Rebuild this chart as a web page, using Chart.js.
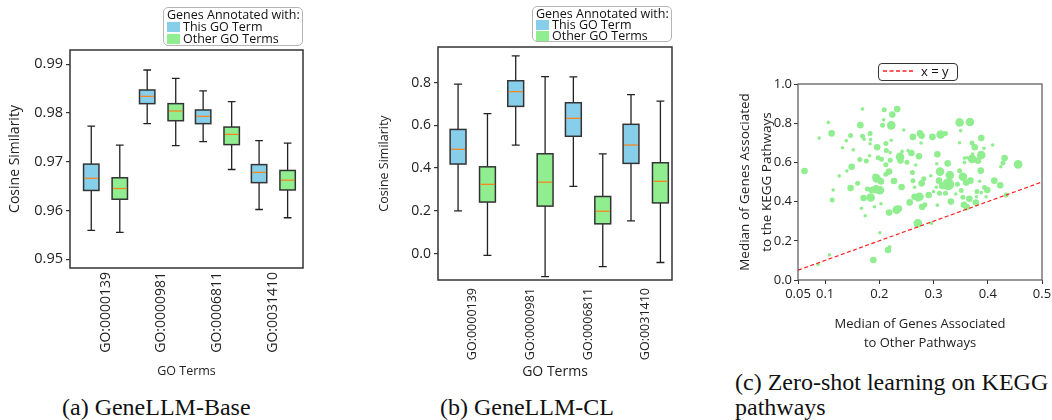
<!DOCTYPE html>
<html lang="en">
<head>
<meta charset="UTF-8">
<title>GeneLLM figure</title>
<script src="https://cdn.jsdelivr.net/npm/chart.js"></script>
<style>
  body { margin: 0; background: #fff; font-family: 'Open Sans', sans-serif; color: #111; }
  #wrap { position: relative; width: 1052px; height: 420px; overflow: hidden; }
  canvas { position: absolute; top: 0; }
  .lg { position: absolute; box-sizing: border-box; border: 1px solid #b5b5b5; border-radius: 5px; background: #fff; font-size: 12.5px; line-height: 12px; padding: 1px 0 0 3px; white-space: nowrap; }
  .lg .sw { display: inline-block; width: 13px; height: 10px; margin-right: 3px; vertical-align: -1px; }
  .cap { position: absolute; font-family: 'Liberation Serif', serif; font-size: 24px; line-height: 25px; white-space: nowrap; }
</style>
</head>
<body>
<div id="wrap">
  <canvas id="chartA" width="320" height="382" style="left:0"></canvas>
  <canvas id="chartB" width="330" height="382" style="left:360px"></canvas>
  <canvas id="chartC" width="352" height="356" style="left:700px"></canvas>

  <div class="lg" style="left:163px;top:7px;width:140px;height:39px">
    <div>Genes Annotated with:</div>
    <div><span class="sw" style="background:#87ceeb"></span>This GO Term</div>
    <div><span class="sw" style="background:#90ee90"></span>Other GO Terms</div>
  </div>
  <div class="lg" style="left:532px;top:6px;width:140px;height:36px;line-height:11px">
    <div>Genes Annotated with:</div>
    <div><span class="sw" style="background:#87ceeb"></span>This GO Term</div>
    <div><span class="sw" style="background:#90ee90"></span>Other GO Terms</div>
  </div>
  <div class="lg" style="left:878px;top:63px;width:80px;height:18px;border-color:#333;border-radius:4px;font-size:13px;line-height:15px;padding:0 0 0 4px">
    <svg width="31" height="4" style="vertical-align:3px;margin-right:7px"><line x1="0" y1="2" x2="31" y2="2" stroke="#ff2020" stroke-width="1.3" stroke-dasharray="4,2.5"/></svg>x = y
  </div>

  <div class="cap" style="left:62px;top:395px">(a) GeneLLM-Base</div>
  <div class="cap" style="left:440px;top:395px">(b) GeneLLM-CL</div>
  <div class="cap" style="left:735px;top:370px">(c) Zero-shot learning on KEGG<br>pathways</div>
</div>

<script>
// ---- data ----
const goTerms = ['GO:0000139', 'GO:0000981', 'GO:0006811', 'GO:0031410'];

// (a) GeneLLM-Base, box stats per GO term
const baseThisLow  = [0.9559, 0.9778, 0.9741, 0.9602];
const baseThisQ1   = [0.9641, 0.9819, 0.9778, 0.9657];
const baseThisMed  = [0.9666, 0.9834, 0.9793, 0.9678];
const baseThisQ3   = [0.9695, 0.9847, 0.9806, 0.9694];
const baseThisHigh = [0.9773, 0.9888, 0.9845, 0.9743];
const baseOtherLow  = [0.9555, 0.9733, 0.9684, 0.9585];
const baseOtherQ1   = [0.9623, 0.9784, 0.9735, 0.9642];
const baseOtherMed  = [0.9645, 0.9804, 0.9756, 0.9662];
const baseOtherQ3   = [0.9667, 0.9819, 0.9771, 0.9682];
const baseOtherHigh = [0.9734, 0.9871, 0.9823, 0.9738];
const baseTicks = [0.95, 0.96, 0.97, 0.98, 0.99];
const baseTickLabels = ['0.95', '0.96', '0.97', '0.98', '0.99'];

// (b) GeneLLM-CL
const clThisLow  = [0.200, 0.508, 0.314, 0.153];
const clThisQ1   = [0.419, 0.689, 0.549, 0.422];
const clThisMed  = [0.488, 0.758, 0.633, 0.508];
const clThisQ3   = [0.581, 0.809, 0.706, 0.605];
const clThisHigh = [0.793, 0.925, 0.827, 0.744];
const clOtherLow  = [-0.009, -0.108, -0.061, -0.042];
const clOtherQ1   = [0.241, 0.222, 0.139, 0.237];
const clOtherMed  = [0.324, 0.334, 0.198, 0.338];
const clOtherQ3   = [0.406, 0.467, 0.267, 0.425];
const clOtherHigh = [0.655, 0.828, 0.467, 0.714];
const clTicks = [0.0, 0.2, 0.4, 0.6, 0.8];
const clTickLabels = ['0.0', '0.2', '0.4', '0.6', '0.8'];

// (c) KEGG pathways: median for other pathways (x), for the KEGG pathway (y), marker radius
const keggX = [0.062, 0.087, 0.089, 0.106, 0.112, 0.108, 0.113, 0.115, 0.126, 0.132, 0.139, 0.140, 0.147, 0.149, 0.147, 0.152,
  0.160, 0.165, 0.164, 0.169, 0.169, 0.172, 0.171, 0.167, 0.174, 0.176, 0.183, 0.184, 0.183, 0.182, 0.184, 0.178,
  0.186, 0.189, 0.191, 0.193, 0.195, 0.196, 0.198, 0.194, 0.201, 0.203, 0.203, 0.201, 0.206, 0.208, 0.209, 0.204,
  0.212, 0.219, 0.216, 0.218, 0.220, 0.218, 0.222, 0.224, 0.222, 0.213, 0.220, 0.212, 0.212, 0.227, 0.233, 0.232,
  0.236, 0.238, 0.239, 0.241, 0.242, 0.245, 0.251, 0.253, 0.256, 0.259, 0.261, 0.262, 0.262, 0.265, 0.265, 0.267,
  0.271, 0.273, 0.271, 0.275, 0.278, 0.278, 0.279, 0.274, 0.282, 0.284, 0.291, 0.296, 0.298, 0.277, 0.295, 0.300,
  0.305, 0.306, 0.307, 0.307, 0.310, 0.312, 0.313, 0.311, 0.316, 0.322, 0.322, 0.326, 0.327, 0.330, 0.332, 0.341,
  0.344, 0.348, 0.348, 0.348, 0.350, 0.351, 0.354, 0.354, 0.356, 0.357, 0.361, 0.360, 0.357, 0.367, 0.368, 0.366,
  0.371, 0.371, 0.372, 0.376, 0.378, 0.380, 0.379, 0.382, 0.385, 0.387, 0.388, 0.388, 0.393, 0.394, 0.397, 0.399,
  0.409, 0.412, 0.423, 0.424, 0.428, 0.431, 0.434, 0.456, 0.388, 0.362];
const keggY = [0.556, 0.079, 0.724, 0.804, 0.748, 0.129, 0.408, 0.459, 0.531, 0.675, 0.711, 0.556, 0.737, 0.578, 0.469, 0.664,
  0.493, 0.790, 0.615, 0.872, 0.734, 0.718, 0.418, 0.366, 0.328, 0.607, 0.748, 0.716, 0.695, 0.634, 0.421, 0.464,
  0.459, 0.102, 0.374, 0.527, 0.518, 0.677, 0.624, 0.463, 0.458, 0.503, 0.389, 0.241, 0.790, 0.817, 0.869, 0.616,
  0.697, 0.170, 0.153, 0.553, 0.611, 0.344, 0.789, 0.844, 0.713, 0.661, 0.650, 0.588, 0.539, 0.505, 0.872, 0.358,
  0.365, 0.629, 0.610, 0.474, 0.656, 0.765, 0.601, 0.660, 0.396, 0.648, 0.548, 0.730, 0.507, 0.425, 0.473, 0.587,
  0.289, 0.631, 0.412, 0.748, 0.736, 0.493, 0.374, 0.425, 0.517, 0.384, 0.434, 0.289, 0.730, 0.699, 0.532, 0.451,
  0.473, 0.593, 0.641, 0.382, 0.507, 0.553, 0.742, 0.442, 0.480, 0.748, 0.442, 0.595, 0.489, 0.535, 0.400, 0.439,
  0.488, 0.804, 0.700, 0.557, 0.762, 0.456, 0.527, 0.422, 0.384, 0.600, 0.372, 0.497, 0.622, 0.806, 0.507, 0.414,
  0.618, 0.699, 0.643, 0.677, 0.395, 0.451, 0.425, 0.609, 0.504, 0.558, 0.724, 0.638, 0.672, 0.472, 0.425, 0.459,
  0.689, 0.507, 0.483, 0.578, 0.597, 0.622, 0.434, 0.590, 0.446, 0.624];
const keggR = [3.3, 1.8, 1.8, 1.8, 3.3, 1.8, 2.5, 1.8, 1.8, 1.8, 1.8, 1.8, 2.5, 3.3, 3.3, 1.8,
  2.5, 3.3, 2.5, 1.8, 2.5, 1.8, 3.3, 1.8, 1.8, 2.5, 2.5, 1.8, 1.8, 1.8, 4.3, 2.5,
  3.3, 3.3, 1.8, 3.3, 4.3, 3.3, 2.5, 4.3, 4.3, 3.3, 1.8, 1.8, 2.5, 1.8, 2.5, 2.5,
  2.5, 1.8, 3.3, 3.3, 2.5, 3.3, 4.3, 3.3, 1.8, 2.5, 1.8, 2.5, 2.5, 3.3, 3.3, 4.3,
  3.3, 4.3, 3.3, 3.3, 1.8, 1.8, 2.5, 1.8, 3.3, 3.3, 2.5, 3.3, 2.5, 3.3, 1.8, 1.8,
  4.3, 3.3, 2.5, 3.3, 3.3, 3.3, 3.3, 4.3, 2.5, 2.5, 3.3, 1.8, 3.3, 1.8, 1.8, 1.8,
  1.8, 1.8, 3.3, 1.8, 3.3, 4.3, 4.3, 2.5, 3.3, 2.5, 2.5, 3.3, 6.0, 4.3, 3.3, 1.8,
  2.5, 4.3, 1.8, 2.5, 1.8, 2.5, 4.3, 2.5, 3.3, 1.8, 3.3, 3.3, 1.8, 4.3, 3.3, 3.3,
  4.3, 2.5, 1.8, 3.3, 3.3, 2.5, 1.8, 3.3, 1.8, 3.3, 3.3, 4.3, 1.8, 2.5, 1.8, 3.3,
  1.8, 3.3, 3.3, 1.8, 2.5, 3.3, 2.5, 4.3, 1.8, 1.8];
const refLine = [0.05, 0.5];   // x = y
const keggXTicks = [0.05, 0.1, 0.2, 0.3, 0.4, 0.5];
const keggXLabels = ['0.05', '0.1', '0.2', '0.3', '0.4', '0.5'];
const keggYTicks = [0.0, 0.2, 0.4, 0.6, 0.8, 1.0];
const keggYLabels = ['0.0', '0.2', '0.4', '0.6', '0.8', '1.0'];

// ---- styles ----
const BLUE = '#87ceeb';
const GREEN = '#90ee90';
const MEDIAN = '#f5871f';
const SHIFT = 0.255;   // offset of each box from its GO term centre
const BOX_W = 0.275;

const font = 'Open Sans';
const dark = '#222';

// draws boxes, whiskers and medians from the scales
function boxPlugin(series) {
  return {
    id: 'boxes',
    afterDatasetsDraw(chart) {
      const { ctx, scales: { x, y } } = chart;
      ctx.save();
      series.forEach(s => {
        s.med.forEach((m, i) => {
          const pos = i + 1 + s.shift;
          const cx = x.getPixelForValue(pos);
          const half = x.getPixelForValue(pos + BOX_W / 2) - cx;
          const cap = half / 2;
          const yLo = y.getPixelForValue(s.lo[i]);
          const yQ1 = y.getPixelForValue(s.q1[i]);
          const yMed = y.getPixelForValue(m);
          const yQ3 = y.getPixelForValue(s.q3[i]);
          const yHi = y.getPixelForValue(s.hi[i]);
          ctx.strokeStyle = dark;
          ctx.lineWidth = 1.3;
          ctx.beginPath();
          ctx.moveTo(cx, yQ3); ctx.lineTo(cx, yHi);
          ctx.moveTo(cx - cap, yHi); ctx.lineTo(cx + cap, yHi);
          ctx.moveTo(cx, yQ1); ctx.lineTo(cx, yLo);
          ctx.moveTo(cx - cap, yLo); ctx.lineTo(cx + cap, yLo);
          ctx.stroke();
          ctx.fillStyle = s.color;
          ctx.fillRect(cx - half, yQ3, half * 2, yQ1 - yQ3);
          ctx.strokeStyle = '#333';
          ctx.lineWidth = 1.5;
          ctx.strokeRect(cx - half, yQ3, half * 2, yQ1 - yQ3);
          ctx.strokeStyle = MEDIAN;
          ctx.lineWidth = 1.3;
          ctx.beginPath();
          ctx.moveTo(cx - half + 1, yMed); ctx.lineTo(cx + half - 1, yMed);
          ctx.stroke();
        });
      });
      ctx.restore();
    }
  };
}

// box round the plot area
function framePlugin(color, width) {
  return {
    id: 'frame',
    afterDraw(chart) {
      const { ctx, chartArea: a } = chart;
      ctx.save();
      ctx.strokeStyle = color;
      ctx.lineWidth = width;
      ctx.strokeRect(a.left, a.top, a.right - a.left, a.bottom - a.top);
      ctx.restore();
    }
  };
}

function noPad(scale) {
  scale.paddingLeft = 0; scale.paddingRight = 0;
  scale.paddingTop = 0; scale.paddingBottom = 0;
}

function boxChart(id, opts) {
  return new Chart(document.getElementById(id), {
    type: 'scatter',
    data: { datasets: [{ label: 'This GO Term', data: [] }, { label: 'Other GO Terms', data: [] }] },
    options: {
      responsive: false,
      animation: false,
      layout: { padding: opts.padding },
      plugins: { legend: { display: false }, tooltip: { enabled: false } },
      scales: {
        x: {
          type: 'linear',
          min: opts.xMin,
          max: opts.xMax,
          afterBuildTicks: s => { s.ticks = goTerms.map((_, i) => ({ value: i + 1 })); },
          afterFit: s => { s.height = opts.xHeight; noPad(s); },
          grid: { display: false },
          border: { display: false },
          ticks: {
            autoSkip: false, minRotation: 90, maxRotation: 90, padding: opts.xPad,
            color: dark, font: { family: font, size: opts.xFont },
            callback: (v, i) => goTerms[i]
          },
          title: { display: true, text: 'GO Terms', color: dark, font: { family: font, size: opts.xTitleFont }, padding: { top: 0, bottom: opts.xTitlePad } }
        },
        y: {
          min: opts.yMin,
          max: opts.yMax,
          afterBuildTicks: s => { s.ticks = opts.ticks.map(v => ({ value: v })); },
          afterFit: s => { s.width = opts.yWidth; noPad(s); },
          grid: { display: true, drawOnChartArea: false, drawTicks: true, tickLength: 4, color: '#333', lineWidth: 1.2 },
          border: { display: false },
          ticks: {
            padding: 3, color: dark, font: { family: font, size: opts.yFont },
            callback: (v, i) => opts.labels[i]
          },
          title: { display: true, text: 'Cosine Similarity', color: dark, font: { family: font, size: opts.yTitleFont }, padding: { top: opts.yTitlePad, bottom: 0 } }
        }
      }
    },
    plugins: [boxPlugin(opts.series), framePlugin('#333', 1.5)]
  });
}

boxChart('chartA', {
  padding: { top: 50, right: 17, left: 0, bottom: 0 },
  xMin: 0.365, xMax: 4.53, xHeight: 114, xPad: -4, xFont: 14, xTitleFont: 12.5, xTitlePad: 3,
  yMin: 0.9482, yMax: 0.9929, yWidth: 70, yFont: 14.5, yTitleFont: 14, yTitlePad: 7,
  ticks: baseTicks, labels: baseTickLabels,
  series: [
    { lo: baseThisLow, q1: baseThisQ1, med: baseThisMed, q3: baseThisQ3, hi: baseThisHigh, color: BLUE, shift: -SHIFT },
    { lo: baseOtherLow, q1: baseOtherQ1, med: baseOtherMed, q3: baseOtherQ3, hi: baseOtherHigh, color: GREEN, shift: SHIFT }
  ]
});

boxChart('chartB', {
  padding: { top: 47, right: 18, left: 0, bottom: 0 },
  xMin: 0.397, xMax: 4.456, xHeight: 102, xPad: 0, xFont: 12.5, xTitleFont: 14, xTitlePad: 2,
  yMin: -0.124, yMax: 0.967, yWidth: 78, yFont: 14, yTitleFont: 12.5, yTitlePad: 17,
  ticks: clTicks, labels: clTickLabels,
  series: [
    { lo: clThisLow, q1: clThisQ1, med: clThisMed, q3: clThisQ3, hi: clThisHigh, color: BLUE, shift: -SHIFT },
    { lo: clOtherLow, q1: clOtherQ1, med: clOtherMed, q3: clOtherQ3, hi: clOtherHigh, color: GREEN, shift: SHIFT }
  ]
});

// (c) scatter
new Chart(document.getElementById('chartC'), {
  type: 'scatter',
  data: {
    datasets: [
      {
        type: 'line',
        label: 'x = y',
        data: refLine.map(v => ({ x: v, y: v })),
        borderColor: '#ff2020',
        borderWidth: 1.2,
        borderDash: [4, 2.5],
        pointRadius: 0,
        fill: false
      },
      {
        label: 'pathways',
        data: keggX.map((x, i) => ({ x: x, y: keggY[i] })),
        pointRadius: keggR,
        backgroundColor: GREEN,
        borderWidth: 0
      }
    ]
  },
  options: {
    responsive: false,
    animation: false,
    layout: { padding: { top: 84, right: 10, left: 0, bottom: 0 } },
    plugins: { legend: { display: false }, tooltip: { enabled: false } },
    scales: {
      x: {
        type: 'linear', min: 0.05, max: 0.5,
        afterBuildTicks: s => { s.ticks = keggXTicks.map(v => ({ value: v })); },
        afterFit: s => { s.height = 76; noPad(s); },
        grid: { display: true, drawOnChartArea: false, drawTicks: true, tickLength: 4, color: '#333' },
        border: { display: false },
        ticks: { padding: 2, color: dark, font: { family: font, size: 13 }, callback: (v, i) => keggXLabels[i] },
        title: {
          display: true, text: ['Median of Genes Associated', 'to Other Pathways'], color: dark,
          font: { family: font, size: 13, lineHeight: 1.4 }, padding: { top: 0, bottom: 4 }
        }
      },
      y: {
        min: 0, max: 1,
        afterBuildTicks: s => { s.ticks = keggYTicks.map(v => ({ value: v })); },
        afterFit: s => { s.width = 98; noPad(s); },
        grid: { display: true, drawOnChartArea: false, drawTicks: true, tickLength: 4, color: '#333' },
        border: { display: false },
        ticks: { padding: 2, color: dark, font: { family: font, size: 13 }, callback: (v, i) => keggYLabels[i] },
        title: {
          display: true, text: ['Median of Genes Associated', 'to the KEGG Pathways'], color: dark,
          font: { family: font, size: 13.5, lineHeight: 1.63 }, padding: { top: 34, bottom: 0 }
        }
      }
    }
  },
  plugins: [framePlugin('#555', 1.2)]
});
</script>
</body>
</html>
